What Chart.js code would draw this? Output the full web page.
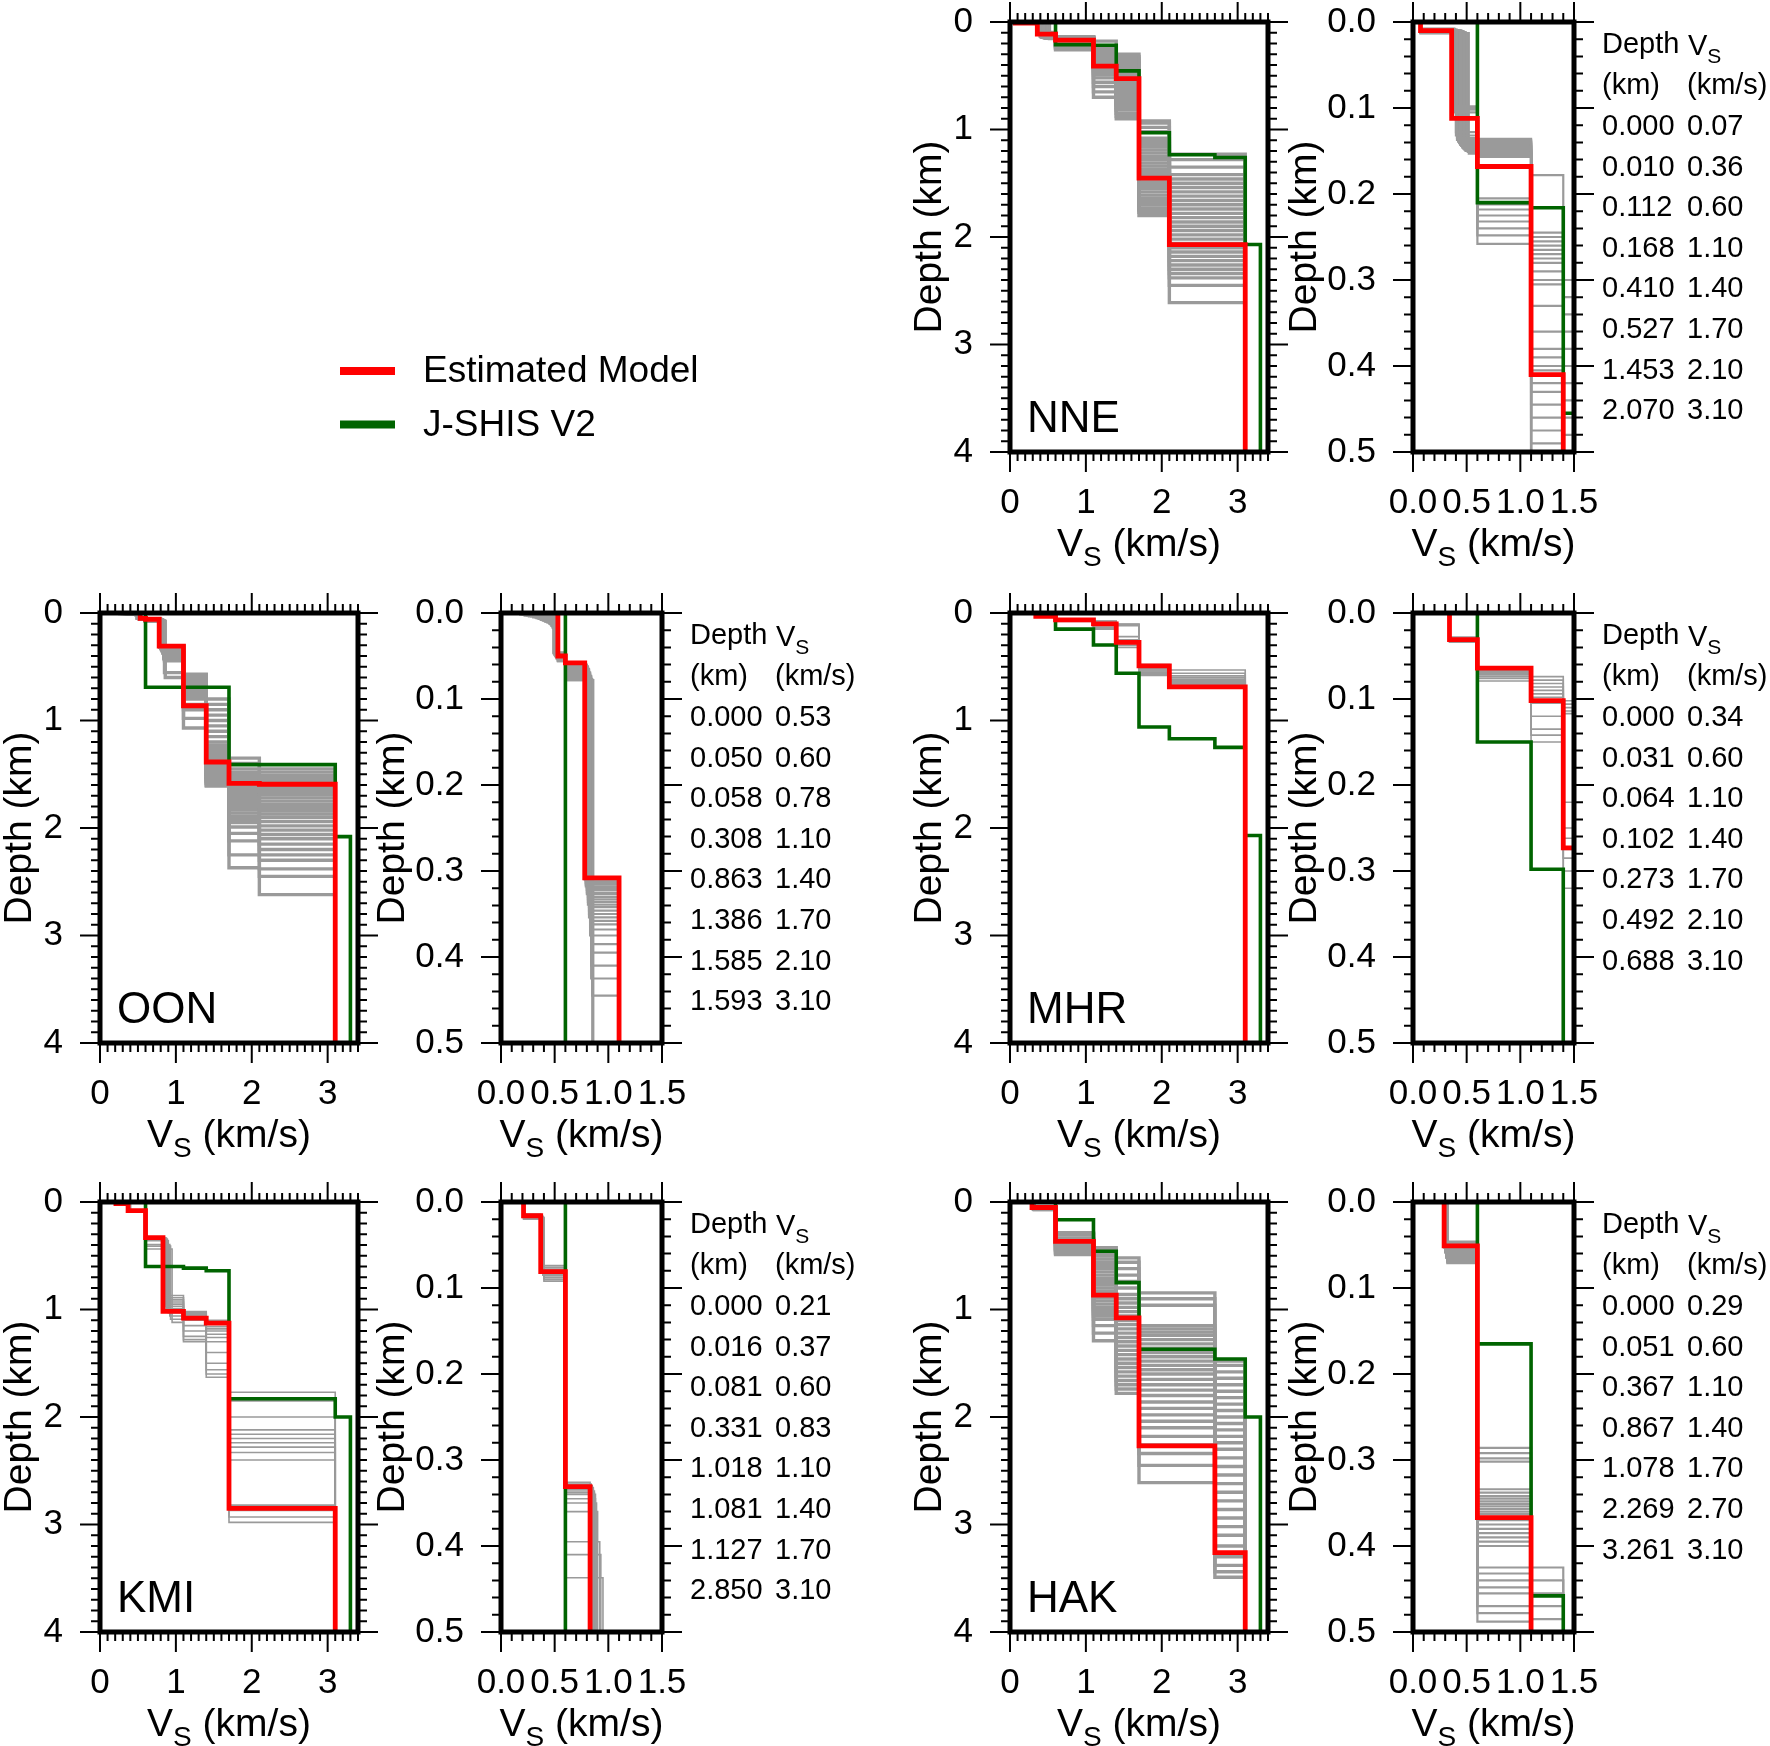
<!DOCTYPE html>
<html>
<head>
<meta charset="utf-8">
<title>Vs profiles</title>
<script src="https://cdn.jsdelivr.net/npm/chart.js@4.4.0/dist/chart.umd.min.js"></script>
<style>
  html, body { margin: 0; padding: 0; background: #fff; }
  #page { position: relative; width: 1770px; height: 1746px; overflow: hidden; background: #fff; }
  #page canvas { position: absolute; }
</style>
</head>
<body>
<div id="page"></div>
<script>
(function () {
    'use strict';

    // ---- estimated model (same values as the tables) ----
    const estDepthNNE = [0.000, 0.010, 0.112, 0.168, 0.410, 0.527, 1.453, 2.070];
    const estVsNNE    = [0.07, 0.36, 0.60, 1.10, 1.40, 1.70, 2.10, 3.10];
    const estDepthOON = [0.000, 0.050, 0.058, 0.308, 0.863, 1.386, 1.585, 1.593];
    const estVsOON    = [0.53, 0.60, 0.78, 1.10, 1.40, 1.70, 2.10, 3.10];
    const estDepthMHR = [0.000, 0.031, 0.064, 0.102, 0.273, 0.492, 0.688];
    const estVsMHR    = [0.34, 0.60, 1.10, 1.40, 1.70, 2.10, 3.10];
    const estDepthKMI = [0.000, 0.016, 0.081, 0.331, 1.018, 1.081, 1.127, 2.850];
    const estVsKMI    = [0.21, 0.37, 0.60, 0.83, 1.10, 1.40, 1.70, 3.10];
    const estDepthHAK = [0.000, 0.051, 0.367, 0.867, 1.078, 2.269, 3.261];
    const estVsHAK    = [0.29, 0.60, 1.10, 1.40, 1.70, 2.70, 3.10];

    // ---- J-SHIS V2 ----
    const jshisDepthNNE = [0, 0.210, 0.216, 0.455, 1.030, 1.235, 1.260, 2.070];
    const jshisVsNNE    = [0.60, 1.10, 1.40, 1.70, 2.10, 2.70, 3.10, 3.30];
    const jshisDepthOON = [0, 0.690, 1.410, 2.080];
    const jshisVsOON    = [0.60, 1.70, 3.10, 3.30];
    const jshisDepthMHR = [0, 0.150, 0.298, 0.560, 1.060, 1.170, 1.250, 2.070];
    const jshisVsMHR    = [0.60, 1.10, 1.40, 1.70, 2.10, 2.70, 3.10, 3.30];
    const jshisDepthKMI = [0, 0.600, 0.615, 0.640, 1.830, 2.000];
    const jshisVsKMI    = [0.60, 1.10, 1.40, 1.70, 3.10, 3.30];
    const jshisDepthHAK = [0, 0.165, 0.458, 0.750, 1.370, 1.460, 2.000];
    const jshisVsHAK    = [0.60, 1.10, 1.40, 1.70, 2.70, 3.10, 3.30];

    // ---- gray ensemble: Vs per layer (number = same in every model, list = one per model)
    //      and, per interface, its depth in each model ----
    const ensVsNNE = [0.07,
        [0.38, 0.38, 0.39, 0.39, 0.40, 0.40, 0.41, 0.41, 0.42, 0.42, 0.43, 0.43, 0.44, 0.44, 0.45,
         0.45, 0.45, 0.46, 0.46, 0.46, 0.47, 0.47, 0.47, 0.48, 0.48, 0.49, 0.49, 0.50, 0.51, 0.52],
        0.60, 1.10, 1.40, 1.70, 2.10, 3.10];
    const ensIfaceNNE = [
        [0.008, 0.008, 0.008, 0.009, 0.009, 0.009, 0.009, 0.009, 0.010, 0.010, 0.010, 0.010, 0.010, 0.010, 0.010,
         0.010, 0.011, 0.011, 0.011, 0.011, 0.011, 0.011, 0.012, 0.012, 0.012, 0.012, 0.012, 0.013, 0.013, 0.013],
        [0.098, 0.100, 0.102, 0.105, 0.128, 0.132, 0.135, 0.137, 0.138, 0.139, 0.140, 0.141, 0.142, 0.143, 0.143,
         0.144, 0.144, 0.145, 0.145, 0.146, 0.146, 0.147, 0.147, 0.148, 0.148, 0.149, 0.150, 0.150, 0.151, 0.153],
        [0.136, 0.137, 0.138, 0.139, 0.140, 0.141, 0.142, 0.143, 0.144, 0.145, 0.146, 0.147, 0.148, 0.149, 0.150,
         0.151, 0.152, 0.153, 0.154, 0.155, 0.156, 0.157, 0.205, 0.212, 0.218, 0.225, 0.232, 0.240, 0.248, 0.258],
        [0.178, 0.245, 0.250, 0.255, 0.260, 0.265, 0.270, 0.275, 0.280, 0.290, 0.300, 0.305, 0.330, 0.360, 0.380,
         0.390, 0.400, 0.405, 0.410, 0.420, 0.430, 0.445, 0.460, 0.475, 0.490, 0.520, 0.560, 0.600, 0.650, 0.700],
        [0.300, 0.320, 0.340, 0.360, 0.380, 0.400, 0.420, 0.440, 0.460, 0.480, 0.500, 0.520, 0.540, 0.560, 0.580,
         0.600, 0.620, 0.640, 0.660, 0.680, 0.700, 0.720, 0.740, 0.760, 0.780, 0.800, 0.820, 0.850, 0.880, 0.900],
        [0.920, 0.940, 0.980, 1.020, 1.080, 1.100, 1.130, 1.160, 1.190, 1.220, 1.250, 1.280, 1.310, 1.340, 1.370,
         1.400, 1.430, 1.460, 1.490, 1.520, 1.550, 1.580, 1.610, 1.640, 1.670, 1.700, 1.730, 1.750, 1.770, 1.800],
        [1.230, 1.280, 1.350, 1.420, 1.460, 1.500, 1.540, 1.580, 1.620, 1.660, 1.700, 1.740, 1.780, 1.820, 1.860,
         1.900, 1.940, 1.980, 2.020, 2.060, 2.100, 2.140, 2.180, 2.220, 2.260, 2.300, 2.340, 2.380, 2.450, 2.610]
    ];

    const ensVsOON = [
        [0.18, 0.20, 0.22, 0.24, 0.26, 0.28, 0.30, 0.32, 0.33, 0.34, 0.35, 0.36, 0.37, 0.38, 0.39,
         0.40, 0.41, 0.42, 0.43, 0.44, 0.45, 0.45, 0.46, 0.46, 0.47, 0.47, 0.48, 0.48, 0.49, 0.50],
        [0.49, 0.49, 0.49, 0.50, 0.50, 0.50, 0.50, 0.50, 0.50, 0.51, 0.51, 0.51, 0.51, 0.51, 0.51,
         0.51, 0.52, 0.52, 0.52, 0.52, 0.52, 0.52, 0.52, 0.53, 0.53, 0.53, 0.53, 0.53, 0.53, 0.53],
        0.60,
        [0.78, 0.78, 0.78, 0.79, 0.79, 0.79, 0.79, 0.80, 0.80, 0.80, 0.80, 0.81, 0.81, 0.81, 0.81,
         0.82, 0.82, 0.82, 0.82, 0.83, 0.83, 0.83, 0.83, 0.84, 0.84, 0.84, 0.84, 0.85, 0.85, 0.86],
        1.10, 1.40, 1.70, 2.10, 3.10];
    const ensIfaceOON = [
        [0.002, 0.002, 0.003, 0.003, 0.004, 0.004, 0.005, 0.005, 0.006, 0.006, 0.007, 0.007, 0.008, 0.008, 0.009,
         0.009, 0.010, 0.010, 0.011, 0.011, 0.012, 0.012, 0.013, 0.013, 0.014, 0.015, 0.016, 0.017, 0.018, 0.019],
        [0.046, 0.046, 0.047, 0.047, 0.047, 0.048, 0.048, 0.048, 0.049, 0.049, 0.049, 0.050, 0.050, 0.050, 0.050,
         0.051, 0.051, 0.051, 0.052, 0.052, 0.052, 0.053, 0.053, 0.053, 0.054, 0.054, 0.055, 0.055, 0.056, 0.056],
        [0.057, 0.057, 0.058, 0.058, 0.059, 0.059, 0.060, 0.060, 0.061, 0.061, 0.062, 0.062, 0.063, 0.063, 0.064,
         0.065, 0.066, 0.067, 0.068, 0.069, 0.070, 0.071, 0.072, 0.073, 0.074, 0.075, 0.076, 0.077, 0.078, 0.078],
        [0.308, 0.309, 0.310, 0.312, 0.314, 0.316, 0.318, 0.320, 0.322, 0.325, 0.327, 0.330, 0.333, 0.336, 0.339,
         0.342, 0.346, 0.350, 0.354, 0.358, 0.362, 0.368, 0.375, 0.385, 0.395, 0.410, 0.425, 0.445, 0.555, 0.600],
        [0.570, 0.575, 0.580, 0.585, 0.590, 0.595, 0.600, 0.610, 0.620, 0.630, 0.640, 0.650, 0.660, 0.670, 0.680,
         0.690, 0.700, 0.710, 0.720, 0.730, 0.740, 0.750, 0.760, 0.780, 0.790, 0.800, 0.850, 0.900, 0.980, 1.070],
        [0.800, 0.850, 0.900, 0.950, 1.000, 1.050, 1.100, 1.150, 1.200, 1.230, 1.260, 1.290, 1.310, 1.330, 1.350,
         1.370, 1.390, 1.410, 1.430, 1.450, 1.470, 1.490, 1.510, 1.530, 1.550, 1.560, 1.570, 1.585, 1.600, 1.610],
        [1.350, 1.400, 1.450, 1.480, 1.500, 1.520, 1.540, 1.560, 1.580, 1.600, 1.620, 1.640, 1.660, 1.680, 1.700,
         1.720, 1.740, 1.760, 1.780, 1.800, 1.830, 1.860, 1.890, 1.920, 1.950, 1.990, 2.050, 2.120, 2.250, 2.370],
        [1.450, 1.480, 1.510, 1.530, 1.550, 1.570, 1.590, 1.610, 1.630, 1.660, 1.690, 1.720, 1.750, 1.780, 1.810,
         1.840, 1.870, 1.900, 1.940, 1.980, 2.020, 2.060, 2.100, 2.150, 2.200, 2.250, 2.300, 2.380, 2.450, 2.620]
    ];

    const ensVsMHR = [0.34, 0.60, 1.10, 1.40, 1.70, 2.10, 3.10];
    const ensIfaceMHR = [
        [0.028, 0.029, 0.029, 0.030, 0.030, 0.031, 0.031, 0.031, 0.032, 0.032, 0.033, 0.034],
        [0.063, 0.064, 0.065, 0.066, 0.067, 0.068, 0.069, 0.070, 0.072, 0.074, 0.076, 0.079],
        [0.074, 0.078, 0.082, 0.086, 0.090, 0.094, 0.098, 0.105, 0.120, 0.135, 0.142, 0.150],
        [0.102, 0.106, 0.110, 0.114, 0.117, 0.220, 0.250, 0.262, 0.275, 0.285, 0.300, 0.320],
        [0.480, 0.490, 0.500, 0.505, 0.510, 0.520, 0.530, 0.540, 0.550, 0.560, 0.570, 0.580],
        [0.530, 0.560, 0.585, 0.600, 0.615, 0.625, 0.635, 0.645, 0.655, 0.660, 0.665, 0.670]
    ];

    const ensVsKMI = [0.21,
        [0.37, 0.37, 0.37, 0.38, 0.38, 0.38, 0.38, 0.39, 0.39, 0.39, 0.40, 0.40, 0.40, 0.40],
        0.60,
        [0.83, 0.84, 0.85, 0.86, 0.86, 0.87, 0.87, 0.88, 0.88, 0.89, 0.90, 0.92, 0.93, 0.95],
        1.10, 1.40, 1.70, 3.10];
    const ensIfaceKMI = [
        [0.014, 0.015, 0.015, 0.016, 0.016, 0.016, 0.016, 0.017, 0.017, 0.017, 0.018, 0.018, 0.019, 0.020],
        [0.074, 0.076, 0.078, 0.079, 0.080, 0.081, 0.082, 0.083, 0.084, 0.085, 0.086, 0.088, 0.090, 0.092],
        [0.326, 0.328, 0.330, 0.332, 0.334, 0.336, 0.338, 0.340, 0.345, 0.350, 0.360, 0.395, 0.410, 0.437],
        [0.870, 0.890, 0.910, 0.930, 0.950, 0.970, 0.990, 1.000, 1.010, 1.020, 1.030, 1.060, 1.090, 1.120],
        [1.020, 1.030, 1.040, 1.045, 1.050, 1.060, 1.070, 1.080, 1.100, 1.150, 1.200, 1.250, 1.280, 1.300],
        [1.100, 1.120, 1.140, 1.160, 1.180, 1.200, 1.230, 1.260, 1.300, 1.400, 1.500, 1.560, 1.600, 1.630],
        [1.770, 1.850, 2.000, 2.120, 2.160, 2.200, 2.240, 2.280, 2.330, 2.400, 2.820, 2.870, 2.930, 2.980]
    ];

    const ensVsHAK = [
        [0.29, 0.29, 0.29, 0.29, 0.29, 0.29, 0.29, 0.29, 0.30, 0.30, 0.30, 0.30, 0.30, 0.30, 0.30,
         0.30, 0.31, 0.31, 0.31, 0.31, 0.31, 0.31, 0.31, 0.31, 0.32, 0.32, 0.32, 0.32, 0.32, 0.32],
        0.60, 1.10, 1.40, 1.70, 2.70, 3.10];
    const ensIfaceHAK = [
        [0.046, 0.047, 0.048, 0.049, 0.050, 0.051, 0.052, 0.053, 0.054, 0.055, 0.056, 0.057, 0.057, 0.058, 0.058,
         0.059, 0.059, 0.060, 0.060, 0.061, 0.062, 0.063, 0.064, 0.065, 0.066, 0.067, 0.068, 0.069, 0.070, 0.071],
        [0.286, 0.292, 0.298, 0.302, 0.334, 0.338, 0.342, 0.345, 0.348, 0.351, 0.354, 0.357, 0.360, 0.363, 0.366,
         0.370, 0.375, 0.380, 0.385, 0.390, 0.395, 0.400, 0.425, 0.432, 0.440, 0.448, 0.455, 0.470, 0.478, 0.488],
        [0.425, 0.440, 0.455, 0.470, 0.485, 0.500, 0.530, 0.560, 0.590, 0.620, 0.650, 0.680, 0.710, 0.740, 0.770,
         0.800, 0.830, 0.860, 0.890, 0.920, 0.950, 0.980, 1.000, 1.020, 1.040, 1.060, 1.090, 1.150, 1.220, 1.290],
        [0.520, 0.560, 0.620, 0.680, 0.740, 0.800, 0.860, 0.900, 0.940, 0.980, 1.020, 1.060, 1.100, 1.140, 1.180,
         1.220, 1.260, 1.300, 1.340, 1.380, 1.420, 1.460, 1.500, 1.540, 1.580, 1.620, 1.660, 1.700, 1.740, 1.780],
        [0.845, 0.900, 0.960, 1.150, 1.180, 1.210, 1.240, 1.280, 1.320, 1.360, 1.400, 1.440, 1.480, 1.520, 1.560,
         1.600, 1.650, 1.700, 1.750, 1.800, 1.860, 1.920, 1.980, 2.040, 2.100, 2.180, 2.260, 2.340, 2.450, 2.610],
        [1.480, 1.520, 1.580, 1.640, 1.700, 1.760, 1.820, 1.880, 1.940, 2.000, 2.060, 2.120, 2.180, 2.240, 2.300,
         2.380, 2.460, 2.540, 2.620, 2.700, 2.780, 2.860, 2.940, 3.020, 3.100, 3.200, 3.300, 3.380, 3.440, 3.490]
    ];

    // ---- tick labels ----
    const bigVsTicks = [0, 1, 2, 3];
    const bigDepthTicks = [0, 1, 2, 3, 4];
    const smallVsTicks = [0.0, 0.5, 1.0, 1.5];
    const smallDepthTicks = [0.0, 0.1, 0.2, 0.3, 0.4, 0.5];

    const legendLabels = ['Estimated Model', 'J-SHIS V2'];

    const stationData = {
        NNE: { estDepth: estDepthNNE, estVs: estVsNNE, jDepth: jshisDepthNNE, jVs: jshisVsNNE, ensVs: ensVsNNE, ensIface: ensIfaceNNE },
        OON: { estDepth: estDepthOON, estVs: estVsOON, jDepth: jshisDepthOON, jVs: jshisVsOON, ensVs: ensVsOON, ensIface: ensIfaceOON },
        MHR: { estDepth: estDepthMHR, estVs: estVsMHR, jDepth: jshisDepthMHR, jVs: jshisVsMHR, ensVs: ensVsMHR, ensIface: ensIfaceMHR },
        KMI: { estDepth: estDepthKMI, estVs: estVsKMI, jDepth: jshisDepthKMI, jVs: jshisVsKMI, ensVs: ensVsKMI, ensIface: ensIfaceKMI },
        HAK: { estDepth: estDepthHAK, estVs: estVsHAK, jDepth: jshisDepthHAK, jVs: jshisVsHAK, ensVs: ensVsHAK, ensIface: ensIfaceHAK }
    };

    // ---- layout ----
    const FONT = '"Liberation Sans", Arial, Helvetica, sans-serif';
    const ROW_TOP = [22, 613, 1202];
    const BOX_H = 430;
    const BIG_LEFT = [100, 1010];
    const SMALL_LEFT = [501, 1413];
    const BIG_W = 258;
    const SMALL_W = 161;
    const PAD_L = 140, PAD_T = 22, PAD_B = 114;
    const placement = { NNE: [0, 1], OON: [1, 0], MHR: [1, 1], KMI: [2, 0], HAK: [2, 1] };

    const RED = '#ff0000';
    const GREEN = '#006400';
    const GRAY = '#9a9a9a';
    // the ensembles of NNE, OON and HAK show up as dense bands in the figure
    const grayWidth = { NNE: 3.4, OON: 3.4, HAK: 3.4, MHR: 1.6, KMI: 1.6 };

    const bigAxes = {
        xMax: 3.4, yMax: 4, xMinor: 0.1, yMinor: 0.1,
        xTicks: bigVsTicks, yTicks: bigDepthTicks, digits: 0, titleOffset: 80, kind: 'big'
    };
    const smallAxes = {
        xMax: 1.5, yMax: 0.5, xMinor: 0.1, yMinor: 0.02,
        xTicks: smallVsTicks, yTicks: smallDepthTicks, digits: 1, titleOffset: 108, kind: 'small'
    };

    function stepPoints(tops, vs, bottom) {
        const pts = [];
        for (let i = 0; i < vs.length; i++) {
            const base = i + 1 < tops.length ? tops[i + 1] : bottom;
            pts.push({ x: vs[i], y: tops[i] }, { x: vs[i], y: base });
        }
        return pts;
    }

    function buildDatasets(station, kind) {
        const d = stationData[station];
        const gw = kind === 'big' ? grayWidth[station] : Math.min(grayWidth[station], 2.2);
        const sets = [];
        sets.push({ data: stepPoints(d.estDepth, d.estVs, 4), borderColor: RED, borderWidth: 4.8, order: 0 });
        sets.push({ data: stepPoints(d.jDepth, d.jVs, 4), borderColor: GREEN, borderWidth: 3.6, order: 1 });
        const nModels = d.ensIface[0].length;
        for (let k = 0; k < nModels; k++) {
            const tops = [0].concat(d.ensIface.map(list => list[k]));
            const vs = d.ensVs.map(v => Array.isArray(v) ? v[k] : v);
            sets.push({ data: stepPoints(tops, vs, 4), borderColor: GRAY, borderWidth: gw, order: 2 });
        }
        return sets.map(s => Object.assign({
            showLine: true, pointRadius: 0, fill: false, tension: 0,
            borderJoinStyle: 'miter', borderCapStyle: 'butt'
        }, s));
    }

    function isMajor(v, list) {
        return list.some(t => Math.abs(t - v) < 1e-6);
    }

    // V with subscript S, followed by an optional tail
    function drawVs(ctx, x, cy, size, tail, align) {
        const sub = Math.round(size * 0.72);
        ctx.font = size + 'px ' + FONT;
        const wV = ctx.measureText('V').width;
        const wTail = ctx.measureText(tail).width;
        ctx.font = sub + 'px ' + FONT;
        const wS = ctx.measureText('S').width;
        const total = wV + wS + wTail;
        const x0 = align === 'center' ? x - total / 2 : x;
        const base = cy + size * 0.36;
        ctx.textAlign = 'left';
        ctx.textBaseline = 'alphabetic';
        ctx.font = size + 'px ' + FONT;
        ctx.fillText('V', x0, base);
        ctx.font = sub + 'px ' + FONT;
        ctx.fillText('S', x0 + wV, base + size * 0.26);
        ctx.font = size + 'px ' + FONT;
        ctx.fillText(tail, x0 + wV + wS, base);
    }

    const panelDecor = {
        id: 'panelDecor',
        afterDatasetsDraw(chart, args, opts) {
            const { ctx, chartArea: a } = chart;
            const xs = chart.scales.x, ys = chart.scales.y;
            const ax = opts.axes;
            ctx.save();

            // tick marks on all four sides, pointing out
            ctx.strokeStyle = '#000';
            ctx.lineWidth = 2;
            ctx.lineCap = 'butt';
            ctx.beginPath();
            const nX = Math.round(ax.xMax / ax.xMinor);
            for (let i = 0; i <= nX; i++) {
                const v = i * ax.xMinor;
                const px = xs.getPixelForValue(v);
                const len = isMajor(v, ax.xTicks) ? 20 : 9;
                ctx.moveTo(px, a.top); ctx.lineTo(px, a.top - len);
                ctx.moveTo(px, a.bottom); ctx.lineTo(px, a.bottom + len);
            }
            const nY = Math.round(ax.yMax / ax.yMinor);
            for (let i = 0; i <= nY; i++) {
                const v = i * ax.yMinor;
                const py = ys.getPixelForValue(v);
                const len = isMajor(v, ax.yTicks) ? 20 : 9;
                ctx.moveTo(a.left, py); ctx.lineTo(a.left - len, py);
                ctx.moveTo(a.right, py); ctx.lineTo(a.right + len, py);
            }
            ctx.stroke();

            // frame
            ctx.lineWidth = 5;
            ctx.strokeRect(a.left, a.top, a.right - a.left, a.bottom - a.top);

            // tick labels
            ctx.fillStyle = '#000';
            ctx.font = '35px ' + FONT;
            ctx.textAlign = 'center';
            ctx.textBaseline = 'middle';
            ax.xTicks.forEach(v => ctx.fillText(v.toFixed(ax.digits), xs.getPixelForValue(v), a.bottom + 51));
            ctx.textAlign = 'right';
            ax.yTicks.forEach(v => ctx.fillText(v.toFixed(ax.digits), a.left - 37, ys.getPixelForValue(v)));

            // axis titles
            ctx.save();
            ctx.translate(a.left - ax.titleOffset, (a.top + a.bottom) / 2);
            ctx.rotate(-Math.PI / 2);
            ctx.font = '39px ' + FONT;
            ctx.textAlign = 'center';
            ctx.textBaseline = 'middle';
            ctx.fillText('Depth (km)', 0, 0);
            ctx.restore();
            drawVs(ctx, (a.left + a.right) / 2, a.bottom + 90, 39, ' (km/s)', 'center');

            if (ax.kind === 'big') {
                ctx.font = '44px ' + FONT;
                ctx.textAlign = 'left';
                ctx.textBaseline = 'alphabetic';
                ctx.fillText(opts.station, a.left + 17, a.bottom - 20);
            } else {
                // table of the estimated model
                const d = stationData[opts.station];
                const c1 = a.right + 28, c2 = c1 + 85;
                ctx.font = '29px ' + FONT;
                ctx.textAlign = 'left';
                ctx.textBaseline = 'middle';
                ctx.fillText('Depth', c1, a.top + 23);
                drawVs(ctx, c2 + 1, a.top + 23, 29, '', 'left');
                ctx.font = '29px ' + FONT;
                ctx.textAlign = 'left';
                ctx.textBaseline = 'middle';
                ctx.fillText('(km)', c1, a.top + 64);
                ctx.fillText('(km/s)', c2, a.top + 64);
                d.estDepth.forEach((z, i) => {
                    const y = a.top + 105 + 40.6 * i;
                    ctx.fillText(z.toFixed(3), c1, y);
                    ctx.fillText(d.estVs[i].toFixed(2), c2, y);
                });
            }
            ctx.restore();
        }
    };

    const page = document.getElementById('page');

    function makePanel(station, axes) {
        const [row, col] = placement[station];
        const boxLeft = axes.kind === 'big' ? BIG_LEFT[col] : SMALL_LEFT[col];
        const boxW = axes.kind === 'big' ? BIG_W : SMALL_W;
        const padR = axes.kind === 'big' ? 30 : 200;
        const canvas = document.createElement('canvas');
        const w = PAD_L + boxW + padR;
        const h = PAD_T + BOX_H + PAD_B;
        canvas.width = w;
        canvas.height = h;
        canvas.style.width = w + 'px';
        canvas.style.height = h + 'px';
        canvas.style.left = (boxLeft - PAD_L) + 'px';
        canvas.style.top = (ROW_TOP[row] - PAD_T) + 'px';
        page.appendChild(canvas);

        return new Chart(canvas, {
            type: 'scatter',
            data: { datasets: buildDatasets(station, axes.kind) },
            options: {
                responsive: false,
                animation: false,
                events: [],
                devicePixelRatio: 1,
                layout: { padding: { left: PAD_L, top: PAD_T, right: padR, bottom: PAD_B } },
                scales: {
                    x: { type: 'linear', min: 0, max: axes.xMax, display: false },
                    y: { type: 'linear', min: 0, max: axes.yMax, reverse: true, display: false }
                },
                plugins: {
                    legend: { display: false },
                    tooltip: { enabled: false },
                    panelDecor: { axes: axes, station: station }
                }
            },
            plugins: [panelDecor]
        });
    }

    Object.keys(placement).forEach(st => {
        makePanel(st, bigAxes);
        makePanel(st, smallAxes);
    });

    // legend
    const lg = document.createElement('canvas');
    lg.width = 460; lg.height = 120;
    lg.style.left = '320px'; lg.style.top = '340px';
    page.appendChild(lg);
    const lctx = lg.getContext('2d');
    [RED, GREEN].forEach((c, i) => {
        const cy = 31 + 53.5 * i;
        lctx.fillStyle = c;
        lctx.fillRect(20, cy - 4, 55, 8);
        lctx.fillStyle = '#000';
        lctx.font = '37px ' + FONT;
        lctx.textBaseline = 'middle';
        lctx.fillText(legendLabels[i], 103, cy + 1);
    });
})();
</script>
</body>
</html>
